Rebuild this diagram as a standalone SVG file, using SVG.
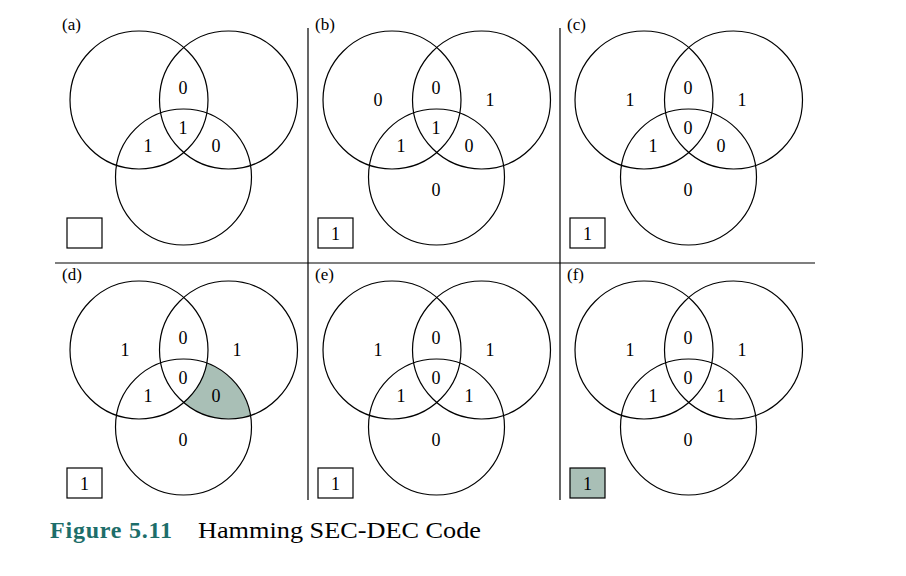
<svg xmlns="http://www.w3.org/2000/svg" width="906" height="576" viewBox="0 0 906 576">
<style>
.c{fill:none;stroke:#000;stroke-width:1.2}
.t{font-family:"Liberation Serif",serif;font-size:18px;text-anchor:middle}
.l{font-family:"Liberation Serif",serif;font-size:17px}
.b{fill:#fff;stroke:#000;stroke-width:1.2}
.ln{stroke:#000;stroke-width:1.2}
</style>
<defs>
<g id="v">
<circle class="c" cx="139" cy="100" r="69"/>
<circle class="c" cx="228.5" cy="100" r="69"/>
<circle class="c" cx="183.5" cy="177" r="68"/>
</g>
<clipPath id="cr"><circle cx="228.5" cy="350" r="69"/></clipPath>
</defs>
<rect width="906" height="576" fill="#fff"/>
<g id="dividers">
<line class="ln" x1="308" y1="28" x2="308" y2="500"/>
<line class="ln" x1="560" y1="28" x2="560" y2="500"/>
<line class="ln" x1="55" y1="263" x2="815" y2="263"/>
</g>
<g id="panel-a">
<text class="l" x="62" y="30">(a)</text>
<use href="#v"/>
<rect class="b" x="67" y="218" width="35" height="30"/>
<text class="t" x="183" y="94">0</text><text class="t" x="183" y="134">1</text>
<text class="t" x="148" y="152">1</text><text class="t" x="216" y="152">0</text>
</g>
<g id="panel-b" transform="translate(253,0)">
<text class="l" x="62" y="30">(b)</text>
<use href="#v"/>
<rect class="b" x="65" y="218" width="35" height="30"/><text class="t" x="82.5" y="240">1</text>
<text class="t" x="125" y="106">0</text><text class="t" x="237" y="106">1</text>
<text class="t" x="183" y="94">0</text><text class="t" x="183" y="134">1</text>
<text class="t" x="148" y="152">1</text><text class="t" x="216" y="152">0</text>
<text class="t" x="183" y="196">0</text>
</g>
<g id="panel-c" transform="translate(505,0)">
<text class="l" x="62" y="30">(c)</text>
<use href="#v"/>
<rect class="b" x="65" y="218" width="35" height="30"/><text class="t" x="82.5" y="240">1</text>
<text class="t" x="125" y="106">1</text><text class="t" x="237" y="106">1</text>
<text class="t" x="183" y="94">0</text><text class="t" x="183" y="134">0</text>
<text class="t" x="148" y="152">1</text><text class="t" x="216" y="152">0</text>
<text class="t" x="183" y="196">0</text>
</g>
<g id="panel-d">
<g clip-path="url(#cr)">
<circle cx="183.5" cy="427" r="68" fill="#a9bfb6"/>
<circle cx="139" cy="350" r="69" fill="#fff"/>
</g>
<g transform="translate(0,250)">
<text class="l" x="62" y="30">(d)</text>
<use href="#v"/>
<rect class="b" x="67" y="218" width="35" height="30"/><text class="t" x="84.5" y="240">1</text>
<text class="t" x="125" y="106">1</text><text class="t" x="237" y="106">1</text>
<text class="t" x="183" y="94">0</text><text class="t" x="183" y="134">0</text>
<text class="t" x="148" y="152">1</text><text class="t" x="216" y="152">0</text>
<text class="t" x="183" y="196">0</text>
</g>
</g>
<g id="panel-e" transform="translate(253,250)">
<text class="l" x="62" y="30">(e)</text>
<use href="#v"/>
<rect class="b" x="65" y="218" width="35" height="30"/><text class="t" x="82.5" y="240">1</text>
<text class="t" x="125" y="106">1</text><text class="t" x="237" y="106">1</text>
<text class="t" x="183" y="94">0</text><text class="t" x="183" y="134">0</text>
<text class="t" x="148" y="152">1</text><text class="t" x="216" y="152">1</text>
<text class="t" x="183" y="196">0</text>
</g>
<g id="panel-f" transform="translate(505,250)">
<text class="l" x="62" y="30">(f)</text>
<use href="#v"/>
<rect x="65" y="218" width="35" height="30" fill="#a9bfb6" stroke="#000" stroke-width="1.2"/><text class="t" x="82.5" y="240">1</text>
<text class="t" x="125" y="106">1</text><text class="t" x="237" y="106">1</text>
<text class="t" x="183" y="94">0</text><text class="t" x="183" y="134">0</text>
<text class="t" x="148" y="152">1</text><text class="t" x="216" y="152">1</text>
<text class="t" x="183" y="196">0</text>
</g>
<g id="caption">
<text x="50" y="538" font-family="Liberation Serif,serif" font-size="24" font-weight="bold" fill="#1d6e6a" textLength="122" lengthAdjust="spacing">Figure  5.11</text>
<text x="198" y="538" font-family="Liberation Serif,serif" font-size="24" textLength="283" lengthAdjust="spacingAndGlyphs">Hamming SEC-DEC Code</text>
</g>
</svg>
